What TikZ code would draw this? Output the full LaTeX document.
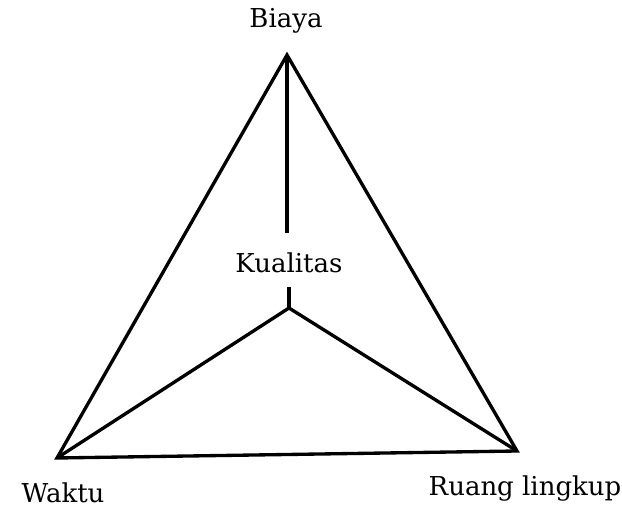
\documentclass[tikz,border=0pt]{standalone}
\usepackage{fontspec}
\setmainfont{DejaVu Serif}
\usepackage{tikz}
\usetikzlibrary{positioning}
\tikzset{
  sisi/.style={line width=2.5pt, line join=miter, draw=black},
  lbl/.style={font=\fontsize{19.5}{23}\selectfont, inner sep=0pt},
}
\begin{document}
\begin{tikzpicture}[x=0.75pt, y=-0.75pt]
        \useasboundingbox (0,0) rectangle (622,509);
        \coordinate (top) at (287,55);
        \coordinate (kiri) at (57,458);
        \coordinate (kanan) at (517,451);
        \coordinate (pusat) at (289,308);
        \node[lbl] (biaya) at (286,21) {Biaya};
        \node[lbl] (waktu) at (63,493) {Waktu};
        \node[lbl] (ruang) at (525,489) {Ruang lingkup};
        \node[lbl] (kual) at (289,263) {Kualitas};
        \draw[sisi] (top) -- (kiri) -- (kanan) -- cycle;
        \draw[sisi] (kiri) -- (pusat) -- (kanan);
        \draw[sisi] (top) -- (top |- 0,233);
        \draw[sisi] (pusat) -- (pusat |- 0,287);
      \end{tikzpicture}
\end{document}
